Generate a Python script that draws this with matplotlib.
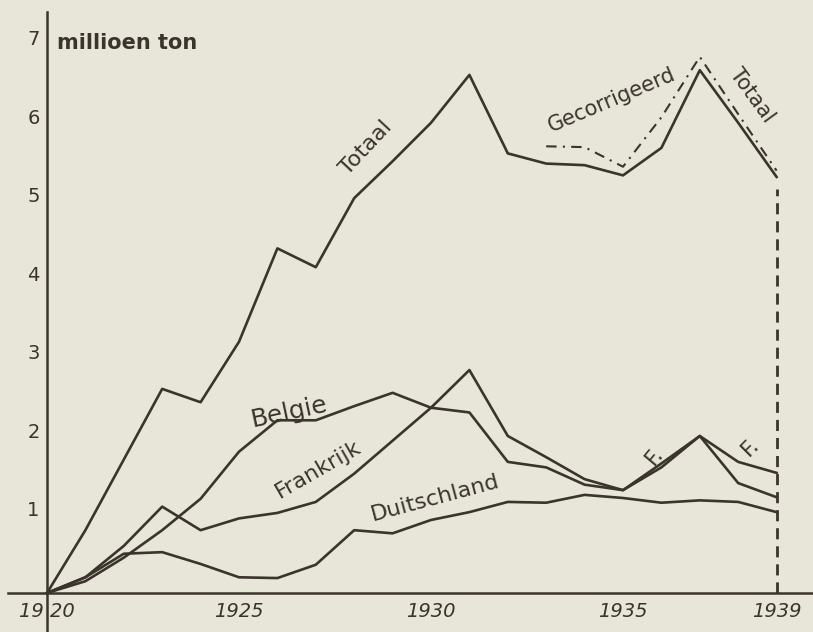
import matplotlib
matplotlib.use('Agg')
import matplotlib.pyplot as plt

# steenkoolafzet (millioen ton)
jaren = list(range(1920, 1940))
totaal = [0, 0.8, 1.7, 2.6, 2.43, 3.2, 4.39, 4.15, 5.03, 5.5, 5.99, 6.6,
          5.6, 5.47, 5.45, 5.32, 5.67, 6.66, 5.99, 5.3]
belgie = [0, 0.15, 0.45, 0.8, 1.2, 1.8, 2.2, 2.2, 2.38, 2.55, 2.36, 2.3,
          1.67, 1.6, 1.38, 1.31, 1.6, 2.0, 1.4, 1.22]
frankrijk = [0, 0.2, 0.6, 1.1, 0.8, 0.95, 1.02, 1.16, 1.52, 1.94, 2.36, 2.84,
             2.0, 1.73, 1.45, 1.31, 1.65, 2.0, 1.67, 1.53]
duitschland = [0, 0.2, 0.5, 0.52, 0.37, 0.2, 0.19, 0.36, 0.8, 0.76, 0.93, 1.03,
               1.16, 1.15, 1.25, 1.21, 1.15, 1.18, 1.16, 1.03]
gecorr_jaren = [1933, 1934, 1935, 1936, 1937, 1938, 1939]
gecorrigeerd = [5.69, 5.68, 5.43, 6.06, 6.83, 6.1, 5.38]

y_labels = ['1', '2', '3', '4', '5', '6', '7']
x_labels = ['1925', '1930', '1935', '1939']

bg = '#e8e6d9'
ink = '#3b342d'

fig = plt.figure(figsize=(8.13, 6.32), dpi=100, facecolor=bg)
ax = fig.add_axes([0, 0, 1, 1])
ax.set_facecolor(bg)
ax.set_xlim(1918.776, 1939.948)
ax.set_ylim(-0.497, 7.554)
ax.axis('off')

# assen
ax.plot([1920, 1920], [-0.5, 7.4], color=ink, lw=1.8)
ax.plot([1918.98, 1940], [0, 0], color=ink, lw=1.8)
ax.plot([1939, 1939], [0, 5.15], color=ink, lw=2.0, ls=(0, (4, 2.5)))

lw = 1.9
ax.plot(jaren, totaal, color=ink, lw=lw)
ax.plot(jaren, belgie, color=ink, lw=lw)
ax.plot(jaren, frankrijk, color=ink, lw=lw)
ax.plot(jaren, duitschland, color=ink, lw=lw)
ax.plot(gecorr_jaren, gecorrigeerd, color=ink, lw=1.5, ls=(0, (5, 3, 1, 3)))

# as-labels
for lab in y_labels:
    ax.text(1919.65, int(lab) + 0.05, lab, color=ink, fontsize=14,
            ha='center', va='center')
ax.text(1920.25, 7.0, 'millioen ton', color=ink, fontsize=15,
        fontweight='bold', ha='left', va='center')
ax.text(1920, -0.24, '19 20', color=ink, fontsize=14, style='italic',
        ha='center', va='center')
for lab in x_labels:
    ax.text(int(lab), -0.24, lab, color=ink, fontsize=14, style='italic',
            ha='center', va='center')

# lijn-labels
ax.text(1928.3, 5.67, 'Totaal', color=ink, fontsize=16, rotation=47,
        ha='center', va='center')
ax.text(1938.36, 6.34, 'Totaal', color=ink, fontsize=15, rotation=-54,
        ha='center', va='center')
ax.text(1934.7, 6.28, 'Gecorrigeerd', color=ink, fontsize=15, rotation=23,
        ha='center', va='center')
ax.text(1926.3, 2.3, 'Belgie', color=ink, fontsize=18, rotation=12,
        ha='center', va='center')
ax.text(1927.06, 1.57, 'Frankrijk', color=ink, fontsize=16, rotation=30,
        ha='center', va='center')
ax.text(1930.1, 1.21, 'Duitschland', color=ink, fontsize=16, rotation=15,
        ha='center', va='center')
ax.text(1935.83, 1.74, 'F.', color=ink, fontsize=16, rotation=50,
        ha='center', va='center')
ax.text(1938.31, 1.86, 'F.', color=ink, fontsize=16, rotation=45,
        ha='center', va='center')

fig.savefig('out.png', dpi=100, facecolor=bg)
